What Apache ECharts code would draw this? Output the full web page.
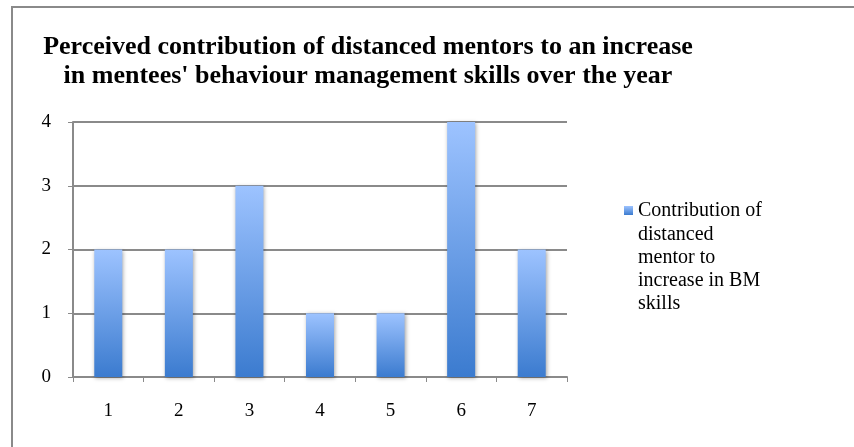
<!DOCTYPE html>
<html>
<head>
<meta charset="utf-8">
<script src="https://cdn.jsdelivr.net/npm/echarts@6/dist/echarts.min.js"></script>
<style>
  html, body { margin: 0; padding: 0; background: #fff; }
  #chart { width: 854px; height: 447px; }
</style>
</head>
<body>
<div id="chart"></div>
<script>
const categories = ['1', '2', '3', '4', '5', '6', '7'];
const contribution = [2, 2, 3, 1, 1, 4, 2];
const legendLines = ['Contribution of', 'distanced', 'mentor to', 'increase in BM', 'skills'];
const seriesName = legendLines.join(' ');
const titleLines = [
    'Perceived contribution of distanced mentors to an increase',
    "in mentees' behaviour management skills over the year"
];

const serif = 'Liberation Serif, Times New Roman, serif';
const axisGray = '#8a8a8a';

const chart = echarts.init(document.getElementById('chart'));
chart.setOption({
    animation: false,
    backgroundColor: '#fff',
    title: {
        text: titleLines.join('\n'),
        left: 363,
        top: 28,
        textAlign: 'center',
        textStyle: {
            fontFamily: serif,
            fontWeight: 'bold',
            fontSize: 26,
            lineHeight: 29,
            color: '#000',
        },
    },
    // legend shows the icon and first line; the rest wraps below it
    legend: {
        data: [seriesName],
        formatter: () => legendLines[0],
        left: 619,
        top: 194,
        itemWidth: 9,
        itemHeight: 9,
        icon: 'rect',
        textStyle: {
            fontFamily: serif,
            fontSize: 20,
            lineHeight: 23,
            color: '#000',
        },
    },
    grid: {
        left: 73,
        right: 287,
        top: 122,
        bottom: 70,
    },
    xAxis: {
        type: 'category',
        data: categories,
        axisLine: {lineStyle: {color: axisGray, width: 2}},
        axisTick: {show: true, length: 5, lineStyle: {color: axisGray, width: 1}},
        axisLabel: {
            margin: 25,
            fontFamily: serif,
            fontSize: 19,
            color: '#000',
        },
    },
    yAxis: {
        type: 'value',
        min: 0,
        max: 4,
        interval: 1,
        axisLine: {show: true, lineStyle: {color: axisGray, width: 2}},
        axisTick: {show: true, length: 5, lineStyle: {color: axisGray, width: 1}},
        splitLine: {lineStyle: {color: axisGray, width: 2}},
        axisLabel: {
            margin: 22,
            fontFamily: serif,
            fontSize: 19,
            color: '#000',
        },
    },
    series: [{
        name: seriesName,
        type: 'bar',
        data: contribution,
        barWidth: 28,
        itemStyle: {
            color: new echarts.graphic.LinearGradient(0, 0, 0, 1, [
                {offset: 0, color: '#9dc3ff'},
                {offset: 1, color: '#3b7bcf'},
            ]),
            shadowColor: 'rgba(0,0,0,0.35)',
            shadowBlur: 4,
            shadowOffsetX: 1,
            shadowOffsetY: 1,
        },
    }],
    graphic: [{
        type: 'rect',
        silent: true,
        shape: {x: 12, y: 7, width: 900, height: 500},
        style: {fill: 'none', stroke: axisGray, lineWidth: 2},
    }, {
        type: 'text',
        silent: true,
        left: 638,
        top: 223,
        style: {
            text: legendLines.slice(1).join('\n'),
            fontFamily: serif,
            fontSize: 20,
            lineHeight: 23,
            fill: '#000',
        },
    }],
});
</script>
</body>
</html>
